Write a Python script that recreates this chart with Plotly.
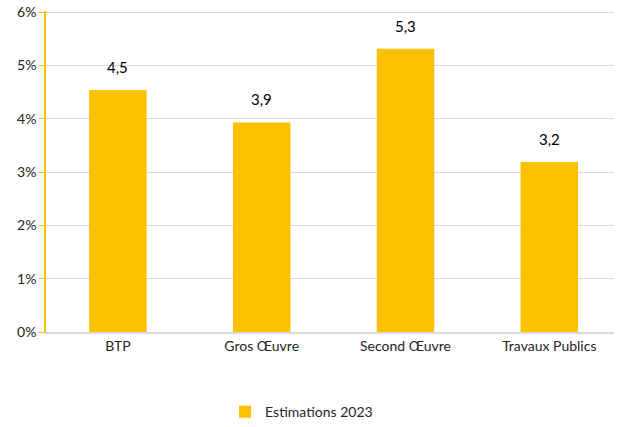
import plotly.graph_objects as go

categories = ["BTP", "Gros Œuvre", "Second Œuvre", "Travaux Publics"]
values = [4.54, 3.93, 5.31, 3.19]
labels = ["4,5", "3,9", "5,3", "3,2"]
series_name = "Estimations 2023"
y_ticks = [0, 1, 2, 3, 4, 5, 6]
y_ticktext = [f"{v}%" for v in y_ticks]

fig = go.Figure()

fig.add_trace(go.Bar(
    x=categories, y=values, name=series_name,
    marker=dict(color="#FFC000", line=dict(width=0)),
    width=0.4,
))

# value labels above bars
for cat, val, lab in zip(categories, values, labels):
    fig.add_annotation(x=cat, y=val, text=lab, showarrow=False,
                       yanchor="bottom", yshift=12,
                       font=dict(size=15, color="#000000"))

fig.update_layout(
    width=618, height=427,
    margin=dict(l=46, r=4, t=11, b=95, autoexpand=False),
    paper_bgcolor="white", plot_bgcolor="white",
    font=dict(family="Lato, Open Sans, sans-serif", size=14, color="#262626"),
    showlegend=True,
    legend=dict(orientation="h", x=0.45, xanchor="center", y=-0.25, yanchor="middle",
                font=dict(size=14, color="#262626"), itemwidth=30),
    xaxis=dict(range=[-0.5, 3.45], showline=True, linecolor="#D9D9D9", linewidth=2,
               ticks="", showgrid=False, tickfont=dict(size=14), automargin=False),
    # range a hair above 6 so the top gridline is drawn
    yaxis=dict(range=[0, 6.02], tickvals=y_ticks, ticktext=y_ticktext, showgrid=True,
               gridcolor="#D9D9D9", gridwidth=1, showline=True, linecolor="#FFC000",
               linewidth=1.5, ticks="outside", tickcolor="#FFC000", ticklen=5,
               zeroline=False, tickfont=dict(size=14), automargin=False),
)

# drop the default body margin so the figure sits at the page corner
fig.write_html("out.html", config={"displayModeBar": False},
               post_script="document.body.style.margin='0';")
